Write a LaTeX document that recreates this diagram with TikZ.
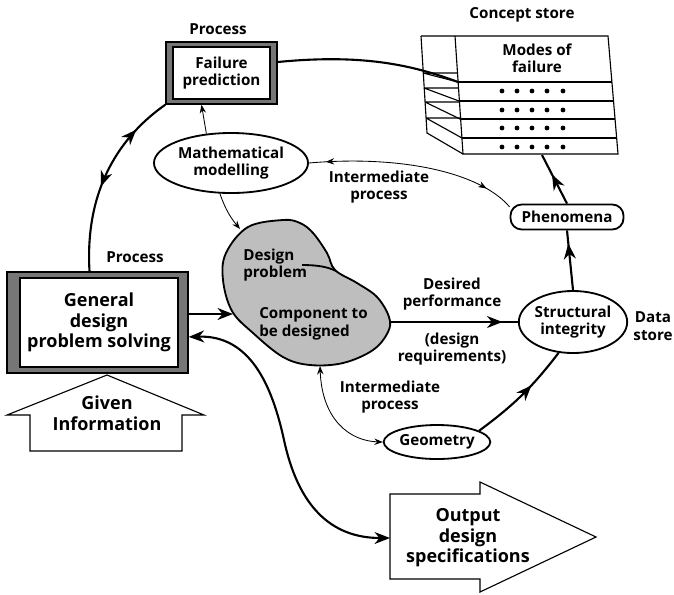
\documentclass[tikz,border=0pt]{standalone}
\usepackage{fontspec}
\setmainfont{Open Sans}
\usetikzlibrary{shapes.geometric,arrows.meta,decorations.markings}
\definecolor{framegray}{RGB}{118,118,118}
\definecolor{blobgray}{RGB}{190,190,190}

\begin{document}
\begin{tikzpicture}[x=0.025cm, y=-0.025cm,
    flowhead/.tip={Stealth[length=11pt,width=8.5pt,inset=3.5pt]},
    infohead/.tip={Stealth[length=6pt,width=4.5pt,inset=2pt]},
    txt/.style={font=\bfseries\fontsize{10.8}{12.4}\selectfont, align=center, inner sep=0pt},
    bigtxt/.style={font=\bfseries\fontsize{12.8}{14.6}\selectfont, align=center, inner sep=0pt},
    frameout/.style={draw, line width=1pt, fill=framegray, inner sep=0pt},
    framein/.style={draw, line width=1pt, fill=white, inner sep=0pt, txt},
    oval/.style={ellipse, draw, line width=1.3pt, fill=white, inner sep=0pt, txt},
    flow/.style={line width=1.5pt},
    info/.style={line width=0.6pt},
    bigarrow/.style={draw, line width=0.8pt, fill=white},
    midarrow/.style={postaction={decorate}, decoration={markings,
        mark=at position #1 with {\arrow{flowhead}}}},
    twoway/.style 2 args={postaction={decorate}, decoration={markings,
        mark=at position #1 with {\arrowreversed{flowhead}},
        mark=at position #2 with {\arrow{flowhead}}}},
    infotwoway/.style 2 args={postaction={decorate}, decoration={markings,
        mark=at position #1 with {\arrowreversed{infohead}},
        mark=at position #2 with {\arrow{infohead}}}}]
   \useasboundingbox (0,0) rectangle (674,594);

   % process boxes
   \node[frameout, minimum width=2.775cm, minimum height=1.55cm] (fpframe) at (221.5,73) {};
   \node[framein, minimum width=2.425cm, minimum height=1.3cm] (fp) at (221.5,73) {Failure\\prediction};
   \node[frameout, minimum width=4.525cm, minimum height=2.525cm] (gdframe) at (97.5,322.5) {};
   \node[framein, bigtxt, minimum width=3.95cm, minimum height=2.225cm] (gd) at (99,322.5) {General\\design\\problem solving};

   \node[oval, minimum width=3.85cm, minimum height=1.5cm] (mm) at (231,163) {Mathematical\\modelling};
   \node[draw, rounded corners=8pt, line width=1.3pt, txt, minimum width=2.825cm, minimum height=0.625cm] (phen) at (567,217) {Phenomena};
   \node[oval, minimum width=2.7cm, minimum height=1.55cm] (si) at (573,322) {Structural\\integrity};
   \node[oval, minimum width=2.175cm, minimum height=0.85cm] (geom) at (437,442) {Geometry};

   % concept store
   \draw[line width=0.8pt] (421,36) -- (608,36) -- (618,154) -- (463,154) -- (455,36);
   \draw[line width=0.8pt] (458,82) -- (612,82);
   \draw[line width=0.8pt] (459,101) -- (613,101);
   \draw[line width=0.8pt] (460,119) -- (615,119);
   \draw[line width=0.8pt] (462,138) -- (617,138);
   \draw[line width=0.8pt] (421,36) -- (427,133) -- (463,154);
   \draw[line width=0.8pt] (423,73) -- (457,73) (423,73) -- (458,82);
   \draw[line width=0.8pt] (424,88) -- (458,88) (424,88) -- (459,101);
   \draw[line width=0.8pt] (425,102) -- (459,102) (425,102) -- (460,119);
   \draw[line width=0.8pt] (426,118) -- (461,118) (426,118) -- (462,138);
   \foreach \y in {91,110,128,147}
     \foreach \x in {502,517,532,547,563}
       \fill (\x,\y) circle (2.4);
   \coordinate (storein) at (458,82);
   \coordinate (storebot) at (542,155);

   % component to be designed
   \draw[fill=blobgray, line width=1.3pt] plot[smooth cycle, tension=0.6] coordinates {(283,220) (300,223) (313,233) (327,253) (335,270) (357,283) (377,297) (389,317) (388,332) (373,350) (343,363) (310,365) (283,357) (253,333) (232,311) (223,280) (226,253) (248,227)};
   \draw[line width=1.3pt] (302,265) .. controls (318,265) and (328,267) .. (336,271);
   \node[txt, align=left, anchor=west] (dprob) at (243,265) {Design\\problem};
   \node[txt, align=left, anchor=west] (comp) at (259,324) {Component to\\be designed};
   \coordinate (blobL) at (233,314);
   \coordinate (blobT) at (240,229);
   \coordinate (blobR) at (389,322);
   \coordinate (blobB) at (320,366);

   % block arrows
   \draw[bigarrow] (7,415) -- (107,375) -- (204,415) -- (182,415) -- (182,451) -- (30,451) -- (30,415) -- cycle;
   \node[bigtxt] (given) at (107,413) {Given\\Information};
   \draw[bigarrow] (390,494) -- (480,494) -- (480,482) -- (596,537) -- (480,592) -- (480,579) -- (390,579) -- cycle;
   \node[bigtxt] (output) at (468,538) {Output\\design\\specifications};
   \coordinate (outin) at (390,538);

   % connectors
   \draw[flow] ([yshift=.275cm]fpframe.east) .. controls (360,54) and (410,64) .. (storein);
   \draw[flow, twoway={0.2}{0.55}] (fpframe.south west) .. controls (115,140) and (85,195) .. ([xshift=-.2cm]gdframe.north);
   \draw[flow, -{flowhead}] (gdframe.east |- blobL) -- (blobL);
   \draw[flow, {flowhead}-{flowhead}] ([yshift=-.36cm]gdframe.east) .. controls (250,335) and (272,385) .. (284,440) .. controls (298,505) and (330,538) .. (outin);
   \draw[info, -{infohead}] (mm.130) -- ([xshift=-.5cm]fpframe.south);
   \draw[info, -{infohead}] (mm.250) to[bend right=10] (blobT);
   \draw[info, infotwoway={0.08}{0.86}] (mm.east) .. controls (400,155) and (480,172) .. (phen.170);
   \draw[flow, midarrow=0.6] (phen.north) -- (storebot);
   \draw[flow, midarrow=0.78] (si.north) -- (phen.south);
   \draw[flow, midarrow=0.88] (blobR) -- (si.west);
   \draw[flow, midarrow=0.62] (geom.15) to[bend right=8] (si.245);
   \draw[info, {infohead}-{infohead}] (blobB) .. controls (322,420) and (350,441) .. (geom.west);

   % labels
   \node[txt] (proctop) at (218,29) {Process};
   \node[txt] (proclow) at (135,257) {Process};
   \node[txt] (cstore) at (522,15) {Concept store};
   \node[txt] (modes) at (537,58) {Modes of\\failure};
   \node[txt] (intup) at (379,187) {Intermediate\\process};
   \node[txt] (desired) at (452,294) {Desired\\performance};
   \node[txt] (designreq) at (452,349) {(design\\requirements)};
   \node[txt] (intlow) at (390,397) {Intermediate\\process};
   \node[txt] (dstore) at (653,326) {Data\\store};
\end{tikzpicture}
\end{document}
